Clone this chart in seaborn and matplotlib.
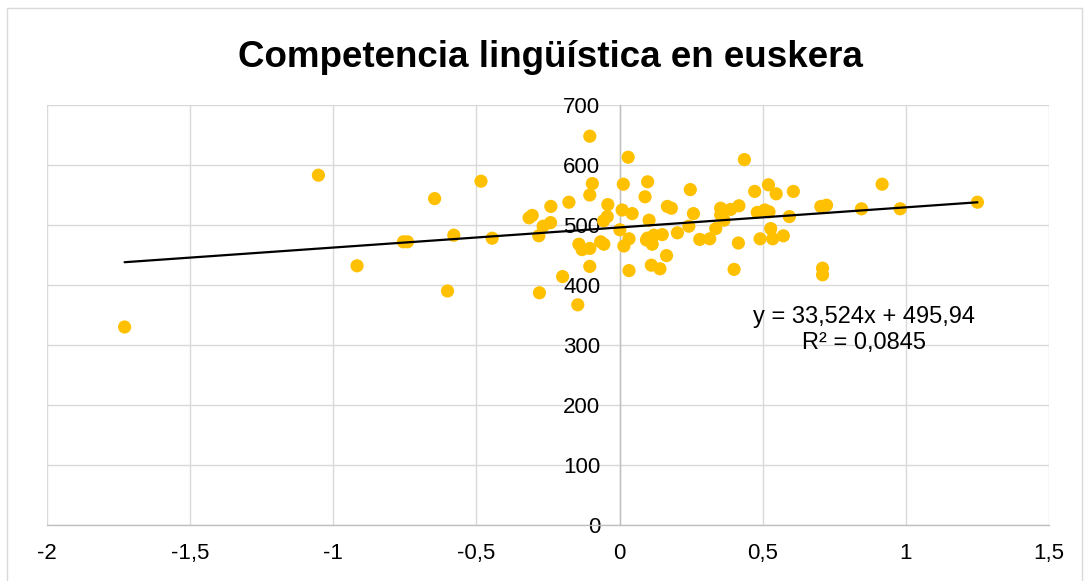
import matplotlib
matplotlib.use("Agg")
import matplotlib.pyplot as plt
import seaborn as sns
import pandas as pd
import numpy as np
from matplotlib.patches import Rectangle

# ---- data ----
x_vals = [-1.729, -1.052, -0.917, -0.755, -0.741, -0.646, -0.601, -0.579, -0.484, -0.445,
          -0.316, -0.305, -0.282, -0.280, -0.267, -0.241, -0.240, -0.199, -0.177, -0.146,
          -0.142, -0.131, -0.104, -0.095, -0.104, -0.104, -0.104, -0.066, -0.055, -0.043,
          -0.056, -0.041, 0.009, 0.001, 0.013, 0.015, 0.030, 0.033, 0.033, 0.044,
          0.089, 0.094, 0.097, 0.098, 0.103, 0.111, 0.114, 0.120, 0.141, 0.149,
          0.164, 0.167, 0.181, 0.202, 0.242, 0.247, 0.258, 0.280, 0.315, 0.336,
          0.353, 0.353, 0.365, 0.388, 0.400, 0.415, 0.417, 0.436, 0.472, 0.481,
          0.491, 0.507, 0.520, 0.522, 0.528, 0.535, 0.547, 0.572, 0.593, 0.607,
          0.703, 0.709, 0.709, 0.723, 0.845, 0.917, 0.980, 1.250]
y_vals = [330, 583, 432, 472, 472, 544, 390, 483, 573, 478,
          512, 516, 482, 387, 498, 504, 531, 414, 538, 367,
          468, 459, 648, 569, 550, 461, 431, 472, 468, 514,
          507, 534, 525, 492, 568, 465, 613, 477, 424, 519,
          547, 475, 478, 572, 508, 433, 468, 483, 427, 484,
          449, 531, 528, 487, 498, 559, 519, 476, 477, 494,
          528, 517, 508, 526, 426, 470, 532, 609, 556, 521,
          477, 525, 567, 522, 494, 477, 552, 482, 514, 556,
          531, 428, 417, 533, 527, 568, 527, 538]

trend_slope = 33.524
trend_intercept = 495.94
equation_text = "y = 33,524x + 495,94"
r2_text = "R² = 0,0845"
title_text = "Competencia lingüística en euskera"

x_ticks = [-2, -1.5, -1, -0.5, 0, 0.5, 1, 1.5]
x_tick_labels = ["-2", "-1,5", "-1", "-0,5", "0", "0,5", "1", "1,5"]
y_ticks = [0, 100, 200, 300, 400, 500, 600, 700]
y_tick_labels = ["0", "100", "200", "300", "400", "500", "600", "700"]

# ---- plot ----
sns.set_theme(style="white")
plt.rcParams['font.family'] = ['Liberation Sans', 'DejaVu Sans']

fig = plt.figure(figsize=(10.89, 5.81), dpi=100)
ax = fig.add_axes([47/1089, 1-525/581, (1049-47)/1089, (525-105)/581])

df = pd.DataFrame({"x": x_vals, "y": y_vals})
sns.scatterplot(data=df, x="x", y="y", ax=ax, color="#FFC000", s=90,
                edgecolor="none", linewidth=0, zorder=3)

line_x = np.array([min(x_vals), max(x_vals)])
line_df = pd.DataFrame({"x": line_x, "y": trend_slope * line_x + trend_intercept})
sns.lineplot(data=line_df, x="x", y="y", ax=ax, color="black", linewidth=1.6, zorder=4)

ax.set_xlim(-2, 1.5)
ax.set_ylim(0, 700)
ax.set_xticks(x_ticks)
ax.set_xticklabels(x_tick_labels)
ax.set_yticks(y_ticks)
ax.set_yticklabels(y_tick_labels)
ax.set_xlabel("")
ax.set_ylabel("")
ax.grid(True, color="#d9d9d9", linewidth=1.0)
ax.set_axisbelow(True)

for s in ["top", "right"]:
    ax.spines[s].set_visible(False)
ax.spines["left"].set_position(("data", 0))
ax.spines["left"].set_color("#bfbfbf")
ax.spines["bottom"].set_color("#bfbfbf")
ax.spines["left"].set_linewidth(1.0)
ax.spines["bottom"].set_linewidth(1.0)

ax.tick_params(axis="both", length=0, labelsize=16, colors="black")
ax.tick_params(axis="y", pad=14)
ax.tick_params(axis="x", pad=13)

ax.text(0.853, 336.7, equation_text, ha="center", va="baseline", fontsize=17, color="black")
ax.text(0.853, 293, r2_text, ha="center", va="baseline", fontsize=17, color="black")

fig.text(550/1089, 1-67/581, title_text, ha="center", va="baseline",
         fontsize=26.5, fontweight="bold", color="black")

fig.patches.append(Rectangle((7/1089, -0.05), 1 - 14/1089, 1.05 - 8/581,
                             transform=fig.transFigure, fill=False,
                             edgecolor="#d9d9d9", linewidth=1.0))

fig.savefig("out.png", dpi=100)
